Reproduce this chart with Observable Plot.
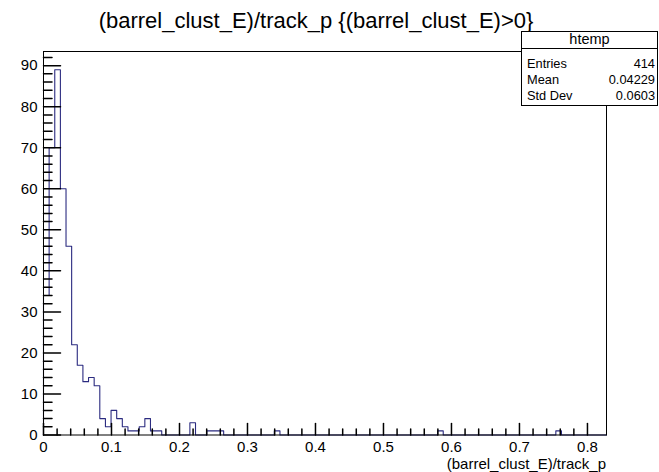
<!DOCTYPE html>
<html>
<head>
<meta charset="utf-8">
<script src="https://cdn.jsdelivr.net/npm/d3@7"></script>
<script src="https://cdn.jsdelivr.net/npm/@observablehq/plot@0.6"></script>
<style>
  body { margin: 0; background: #fff; }
  #wrap { position: relative; width: 659px; height: 472px; overflow: hidden; font-family: "Liberation Sans", Arial, Helvetica, sans-serif; color: #000; }
  #chart { position: absolute; left: 0; top: 0; }
  #title { position: absolute; left: 0; top: 10px; width: 632px; text-align: center; font-size: 22px; line-height: 22px; white-space: nowrap; }
  #xtitle { position: absolute; right: 53px; top: 455.5px; font-size: 15px; line-height: 15px; white-space: nowrap; }
  #stats { position: absolute; left: 521px; top: 31px; width: 135px; height: 73px; border: 1px solid #000; background: #fff; }
  #stats .hdr { position: absolute; left: 0; right: 0; top: 0; height: 16px; border-bottom: 1px solid #000; text-align: center; font-size: 14.5px; line-height: 14.5px; }
  #stats .row { position: absolute; left: 5px; right: 2px; font-size: 12.8px; line-height: 12px; }
  #stats .row span.v { position: absolute; right: 0; }
</style>
</head>
<body>
<div id="wrap">
  <div id="chart"></div>
  <div id="title"></div>
  <div id="xtitle"></div>
  <div id="stats"></div>
</div>
<script>
// ---- data ----
const titleText = "(barrel_clust_E)/track_p {(barrel_clust_E)>0}";
const xTitle = "(barrel_clust_E)/track_p";
const histName = "htemp";
const statLabels = ["Entries", "Mean", "Std Dev"];
const statValues = ["414", "0.04229", "0.0603"];

const xMin = 0;
const xMax = 0.828;
const nBins = 100;
const yMax = 93.45;

// bin contents (100 bins)
const counts = [
  34, 70, 89, 60, 46, 22, 17, 13, 14, 12,
   4,  2,  6,  4,  2,  1,  1,  2,  4,  1,
   1,  0,  0,  0,  0,  0,  3,  0,  0,  1,
   1,  1,  0,  0,  0,  0,  0,  0,  0,  0,
   0,  1,  0,  0,  0,  0,  0,  0,  0,  0,
   0,  0,  0,  0,  0,  0,  0,  0,  0,  0,
   0,  0,  0,  0,  0,  0,  0,  0,  0,  0,
   1,  0,  0,  0,  0,  0,  0,  0,  0,  0,
   0,  0,  0,  0,  0,  0,  0,  0,  0,  0,
   0,  1,  0,  0,  0,  0,  0,  0,  0,  0
];

const xTickValues = [0, 0.1, 0.2, 0.3, 0.4, 0.5, 0.6, 0.7, 0.8];
const xTickLabels = ["0", "0.1", "0.2", "0.3", "0.4", "0.5", "0.6", "0.7", "0.8"];
const yTickValues = [0, 10, 20, 30, 40, 50, 60, 70, 80, 90];
const yTickLabels = ["0", "10", "20", "30", "40", "50", "60", "70", "80", "90"];

// ---- derived ----
const binW = (xMax - xMin) / nBins;
const steps = [{x: xMin, y: 0}];
counts.forEach((c, i) => {
  steps.push({x: xMin + i * binW, y: c});
  steps.push({x: xMin + (i + 1) * binW, y: c});
});
steps.push({x: xMax, y: 0});

const xMinor = d3.range(0, 41).map(i => i * 0.02).filter(v => v <= xMax);
const yMinor = d3.range(0, 47).map(i => i * 2).filter(v => v <= yMax);
const xMajorSet = new Set(xTickValues.map(v => v.toFixed(3)));
const yMajorSet = new Set(yTickValues);

const lineShape = { draw(ctx, l) { ctx.moveTo(0, 0); ctx.lineTo(0, -l); } };

const plot = Plot.plot({
  width: 659,
  height: 472,
  marginLeft: 43,
  marginRight: 53,
  marginTop: 51,
  marginBottom: 37.5,
  style: { fontFamily: "Liberation Sans, Arial, sans-serif", background: "#fff" },
  x: { domain: [xMin, xMax] },
  y: { domain: [0, yMax] },
  marks: [
    Plot.line(steps, { x: "x", y: "y", stroke: "#2b2b80", strokeWidth: 1.1 }),
    Plot.frame({ stroke: "#000", strokeWidth: 1 }),
    // x ticks (inward)
    Plot.vector(xMinor.filter(v => !xMajorSet.has(v.toFixed(3))), { x: d => d, y: 0, length: 6, anchor: "start", shape: lineShape, stroke: "#000" }),
    Plot.vector(xTickValues, { x: d => d, y: 0, length: 11.5, anchor: "start", shape: lineShape, stroke: "#000" }),
    // y ticks (inward)
    Plot.vector(yMinor.filter(v => !yMajorSet.has(v)), { x: xMin, y: d => d, length: 8.5, rotate: 90, anchor: "start", shape: lineShape, stroke: "#000" }),
    Plot.vector(yTickValues, { x: xMin, y: d => d, length: 17, rotate: 90, anchor: "start", shape: lineShape, stroke: "#000" }),
    Plot.axisX({ ticks: xTickValues, tickSize: 0, tickPadding: 6, tickFormat: (d, i) => xTickLabels[i], fontSize: 15, label: null }),
    Plot.axisY({ ticks: yTickValues, tickSize: 0, tickPadding: 6, tickFormat: (d, i) => yTickLabels[i], fontSize: 15, label: null })
  ]
});
plot.style.fontSize = "15px";
document.getElementById("chart").appendChild(plot);

document.getElementById("title").textContent = titleText;
document.getElementById("xtitle").textContent = xTitle;

const stats = document.getElementById("stats");
const hdr = document.createElement("div");
hdr.className = "hdr";
hdr.textContent = histName;
stats.appendChild(hdr);
const rowTops = [25.5, 41.5, 57.5];
statLabels.forEach((lab, i) => {
  const r = document.createElement("div");
  r.className = "row";
  r.style.top = rowTops[i] + "px";
  const a = document.createElement("span");
  a.textContent = lab;
  const b = document.createElement("span");
  b.className = "v";
  b.textContent = statValues[i];
  r.appendChild(a);
  r.appendChild(b);
  stats.appendChild(r);
});
</script>
</body>
</html>
